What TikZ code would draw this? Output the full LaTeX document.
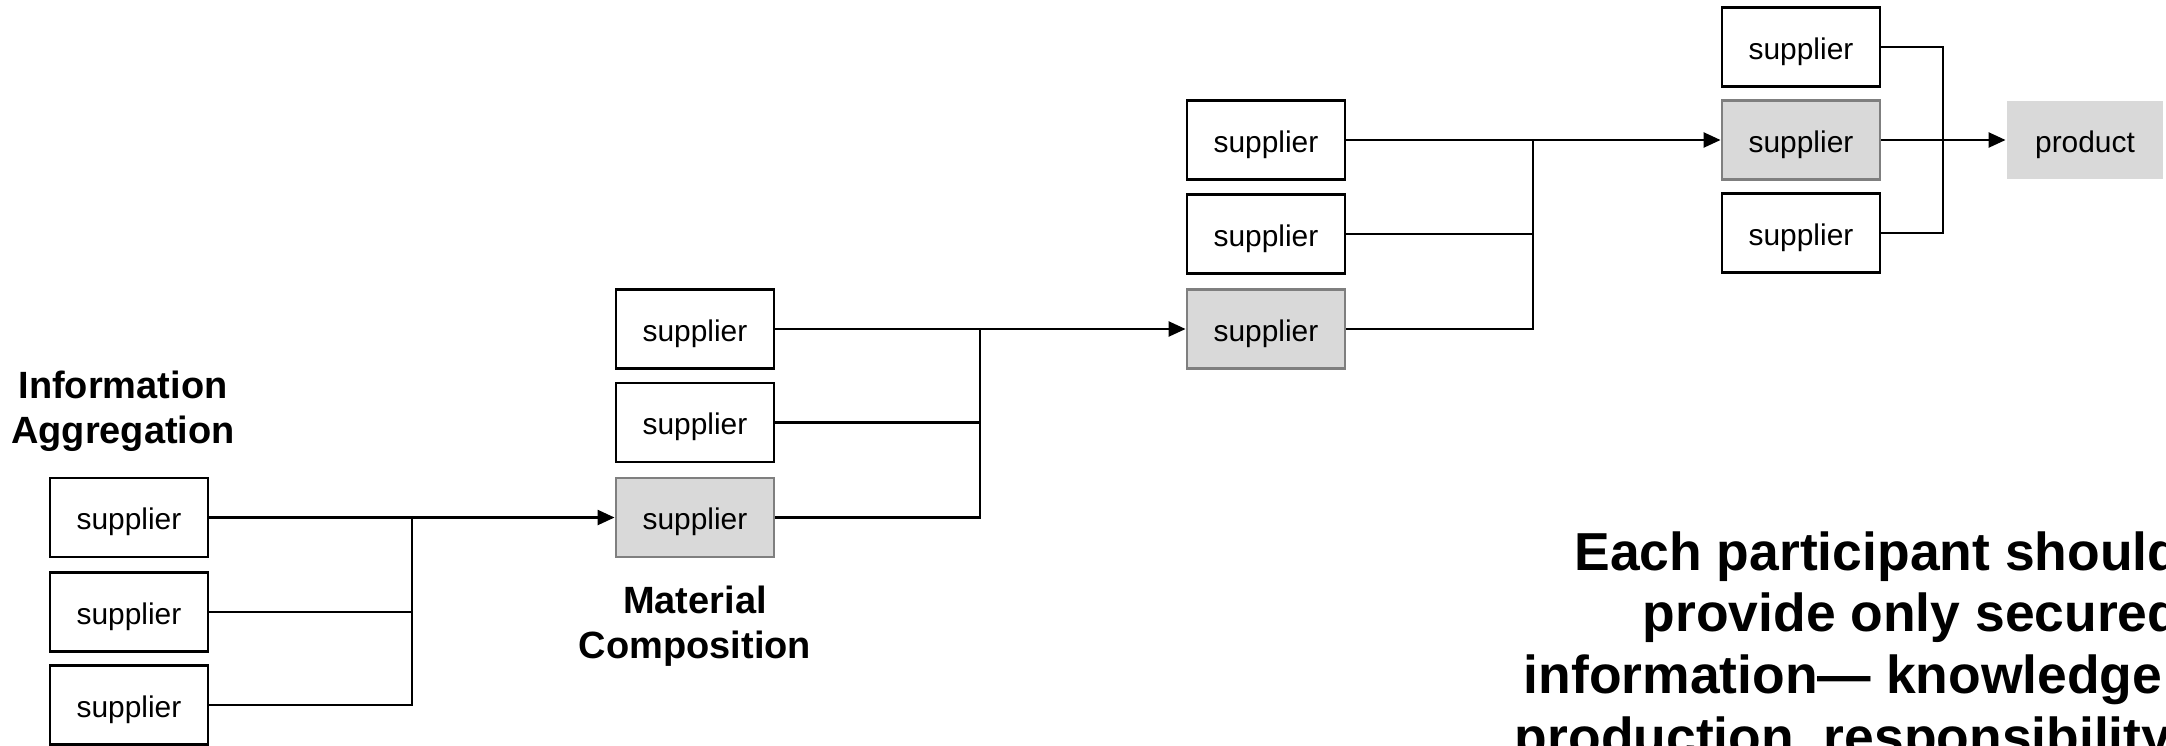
\documentclass[tikz,border=0pt]{standalone}
\usepackage{fontspec}
\setmainfont{Liberation Sans}
\usetikzlibrary{arrows.meta}

\definecolor{boxgray}{HTML}{D9D9D9}
\definecolor{edgegray}{HTML}{7F7F7F}

\tikzset{
  supbox/.style={draw, line width=0.8pt, minimum width=1.58cm, minimum height=0.79cm,
    inner sep=0pt, text height=7pt, text depth=0pt, font=\fontsize{8.5}{10}\selectfont},
  keybox/.style={supbox, draw=edgegray, fill=boxgray},
  prodbox/.style={supbox, draw=none, fill=boxgray, minimum width=1.56cm, minimum height=0.78cm},
  head/.style={align=center, inner sep=0pt, font=\bfseries\fontsize{10.8}{12.8}\selectfont},
  note/.style={align=right, inner sep=0pt, font=\bfseries\fontsize{15.2}{17.5}\selectfont},
  wire/.style={line width=0.7pt},
  feed/.style={wire, -{Stealth[inset=0pt, length=1.7mm, width=1.5mm]}}
}

\begin{document}
\begin{tikzpicture}[x=0.01cm, y=-0.01cm]
  \clip (0,0) rectangle (2166,745);

  % suppliers, stage by stage
  \node[supbox] (a1) at (129,517.5) {supplier};
  \node[supbox] (a2) at (129,612) {supplier};
  \node[supbox] (a3) at (129,705) {supplier};

  \node[supbox] (b1) at (695,329) {supplier};
  \node[supbox] (b2) at (695,422.5) {supplier};
  \node[keybox] (b3) at (695,517.5) {supplier};

  \node[supbox] (c1) at (1266,140) {supplier};
  \node[supbox] (c2) at (1266,234) {supplier};
  \node[keybox] (c3) at (1266,329) {supplier};

  \node[supbox] (d1) at (1801,47) {supplier};
  \node[keybox] (d2) at (1801,140) {supplier};
  \node[supbox] (d3) at (1801,233) {supplier};

  \node[prodbox] (prod) at (2085,140) {product};

  % labels
  \node[head] (infoagg) at (123,411) {Information\\Aggregation};
  \node[head] (matcomp) at (695,626) {Material\\Composition};
  \node[note, anchor=north east] (claim) at (2181,531)
    {Each participant should\\provide only secured\\information— knowledge\rule{0.18cm}{0pt}\\production, responsibility\rule{0.09cm}{0pt}};

  % joins
  \coordinate (ja) at (412,517.5);
  \coordinate (jb) at (980,329);
  \coordinate (jc) at (1533,140);
  \coordinate (jd) at (1943,140);

  \draw[wire] (a1.east) -- (ja) |- (a3.east);
  \draw[wire] (a2.east) -- (a2.east -| ja);
  \draw[feed] (ja) -- (b3.west);

  \draw[wire] (b1.east) -- (jb) |- (b3.east);
  \draw[wire] (b2.east) -- (b2.east -| jb);
  \draw[feed] (jb) -- (c3.west);

  \draw[wire] (c1.east) -- (jc) |- (c3.east);
  \draw[wire] (c2.east) -- (c2.east -| jc);
  \draw[feed] (jc) -- (d2.west);

  \draw[wire] (d1.east) -| (jd) |- (d3.east);
  \draw[feed] (d2.east) -- (prod.west);
\end{tikzpicture}
\end{document}
